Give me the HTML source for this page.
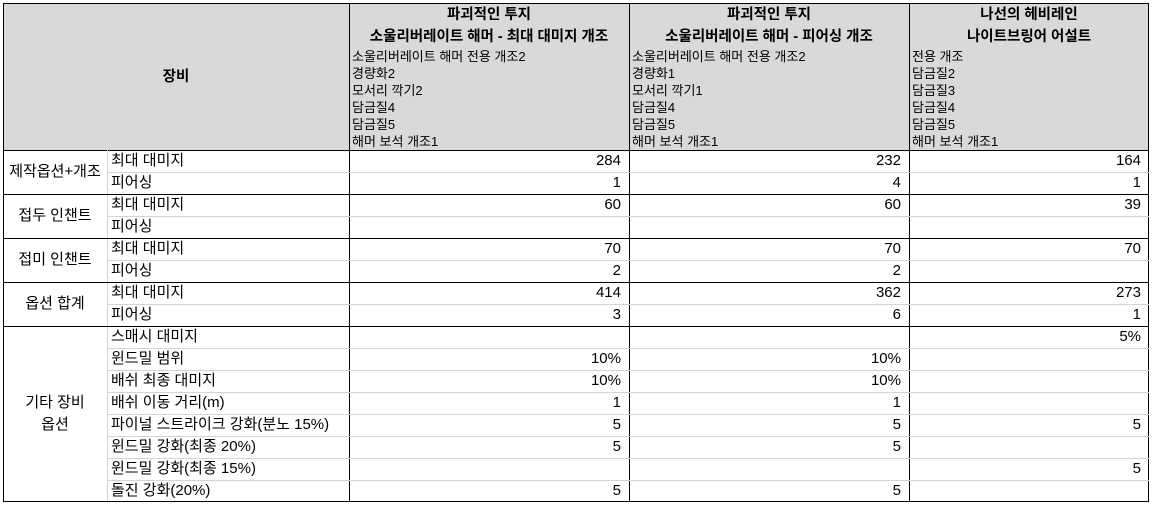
<!DOCTYPE html>
<html><head><meta charset="utf-8"><style>
body{margin:0;width:1153px;height:506px;background:#fff;font-family:"Liberation Sans","Noto Sans CJK KR","NanumGothic",sans-serif;color:#000;position:relative;overflow:hidden}
.a{position:absolute;white-space:nowrap}
.hl{position:absolute;height:1px;background:#d4d4d4}
.hb{position:absolute;height:1px;background:#000}
.vl{position:absolute;width:1px;background:#000}
.t{font-size:15px;line-height:22px}
.r{text-align:right}
.c{text-align:center}
.b{font-weight:bold;font-size:14.5px}
.s{font-size:13px;line-height:17px}
</style></head><body>
<div class="a" style="left:3px;top:3px;width:1146px;height:147px;background:#d9d9d9"></div>
<div class="a" style="left:3px;top:3px;width:1144px;height:497px;border:1px solid #000"></div>
<div class="hb" style="left:3px;top:150px;width:1146px"></div>
<div class="vl" style="left:349px;top:3px;height:498px"></div>
<div class="vl" style="left:629px;top:3px;height:498px"></div>
<div class="vl" style="left:909px;top:3px;height:498px"></div>
<div class="a" style="left:107px;top:150px;width:1px;height:351px;background:#d4d4d4"></div>

<div class="a t b c" style="left:3px;top:66px;width:346px">장비</div>

<div class="a t b c" style="left:349px;top:4px;width:280px">파괴적인 투지</div>
<div class="a t b c" style="left:349px;top:26px;width:280px">소울리버레이트 해머 - 최대 대미지 개조</div>
<div class="a s" style="left:352px;top:48px">소울리버레이트 해머 전용 개조2<br>경량화2<br>모서리 깍기2<br>담금질4<br>담금질5<br>해머 보석 개조1</div>

<div class="a t b c" style="left:629px;top:4px;width:280px">파괴적인 투지</div>
<div class="a t b c" style="left:629px;top:26px;width:280px">소울리버레이트 해머 - 피어싱 개조</div>
<div class="a s" style="left:632px;top:48px">소울리버레이트 해머 전용 개조2<br>경량화1<br>모서리 깍기1<br>담금질4<br>담금질5<br>해머 보석 개조1</div>

<div class="a t b c" style="left:909px;top:4px;width:240px">나선의 헤비레인</div>
<div class="a t b c" style="left:909px;top:26px;width:240px">나이트브링어 어설트</div>
<div class="a s" style="left:912px;top:48px">전용 개조<br>담금질2<br>담금질3<br>담금질4<br>담금질5<br>해머 보석 개조1</div>

<div class="hl" style="left:107px;top:172px;width:1042px"></div>
<div class="hb" style="left:3px;top:194px;width:1146px"></div>
<div class="hl" style="left:107px;top:216px;width:1042px"></div>
<div class="hb" style="left:3px;top:238px;width:1146px"></div>
<div class="hl" style="left:107px;top:260px;width:1042px"></div>
<div class="hb" style="left:3px;top:282px;width:1146px"></div>
<div class="hl" style="left:107px;top:304px;width:1042px"></div>
<div class="hb" style="left:3px;top:326px;width:1146px"></div>
<div class="hl" style="left:107px;top:348px;width:1042px"></div>
<div class="hl" style="left:107px;top:370px;width:1042px"></div>
<div class="hl" style="left:107px;top:392px;width:1042px"></div>
<div class="hl" style="left:107px;top:414px;width:1042px"></div>
<div class="hl" style="left:107px;top:436px;width:1042px"></div>
<div class="hl" style="left:107px;top:458px;width:1042px"></div>
<div class="hl" style="left:107px;top:480px;width:1042px"></div>

<div class="a t c" style="left:3px;top:161px;width:104px">제작옵션+개조</div>
<div class="a t c" style="left:3px;top:205px;width:104px">접두 인챈트</div>
<div class="a t c" style="left:3px;top:249px;width:104px">접미 인챈트</div>
<div class="a t c" style="left:3px;top:293px;width:104px">옵션 합계</div>
<div class="a t c" style="left:3px;top:392px;width:104px">기타 장비<br>옵션</div>

<div class="a t" style="left:111px;top:150px">최대 대미지<br>피어싱<br>최대 대미지<br>피어싱<br>최대 대미지<br>피어싱<br>최대 대미지<br>피어싱<br>스매시 대미지<br>윈드밀 범위<br>배쉬 최종 대미지<br>배쉬 이동 거리(m)<br>파이널 스트라이크 강화(분노 15%)<br>윈드밀 강화(최종 20%)<br>윈드밀 강화(최종 15%)<br>돌진 강화(20%)</div>

<div class="a t r" style="left:349px;top:150px;width:272px">284<br>1<br>60<br>&nbsp;<br>70<br>2<br>414<br>3<br>&nbsp;<br>10%<br>10%<br>1<br>5<br>5<br>&nbsp;<br>5</div>
<div class="a t r" style="left:629px;top:150px;width:272px">232<br>4<br>60<br>&nbsp;<br>70<br>2<br>362<br>6<br>&nbsp;<br>10%<br>10%<br>1<br>5<br>5<br>&nbsp;<br>5</div>
<div class="a t r" style="left:909px;top:150px;width:232px">164<br>1<br>39<br>&nbsp;<br>70<br>&nbsp;<br>273<br>1<br>5%<br>&nbsp;<br>&nbsp;<br>&nbsp;<br>5<br>&nbsp;<br>5<br>&nbsp;</div>
</body></html>
